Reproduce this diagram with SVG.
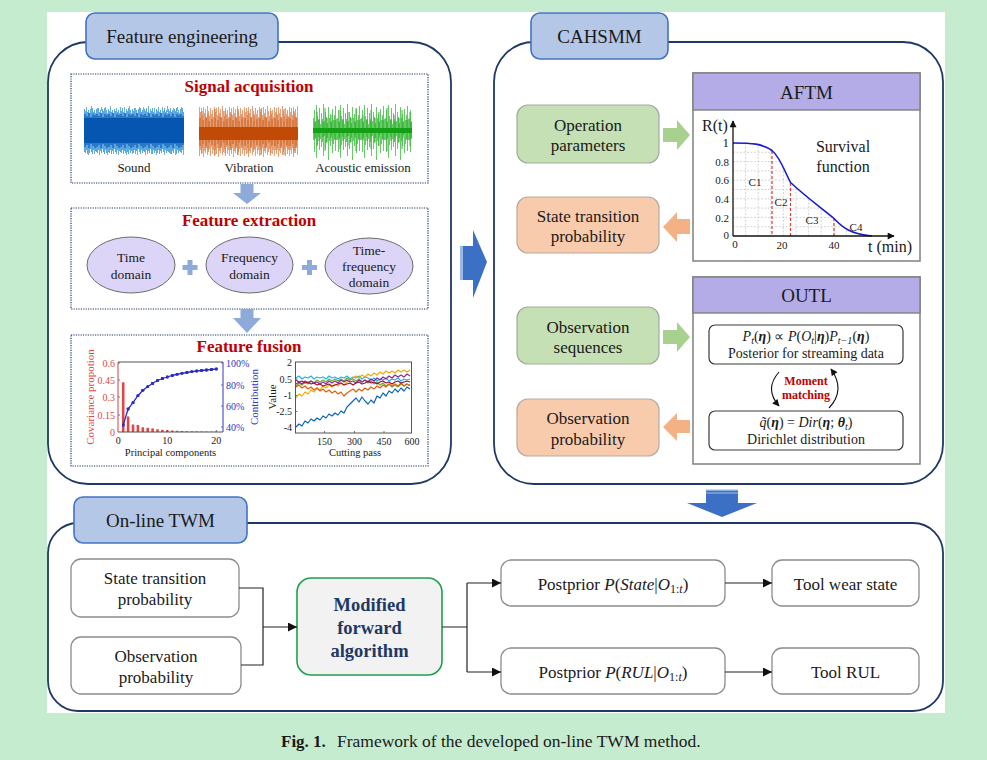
<svg xmlns="http://www.w3.org/2000/svg" width="987" height="760" viewBox="0 0 987 760">
<style>
text{font-family:"Liberation Serif","Times New Roman",serif;fill:#1a1a1a}
.panel{fill:none;stroke:#1f3864;stroke-width:1.8}
.tab{fill:#b4c7e7;stroke:#4472c4;stroke-width:1.6}
.h{font-size:19px;text-anchor:middle}
.dot{fill:none;stroke:#1f3864;stroke-width:1.2;stroke-dasharray:1.2 1.2}
.sec{font-size:17px;font-weight:bold;fill:#c00000;text-anchor:middle}
.lbl{font-size:13px;text-anchor:middle}
.ell{fill:#dcd5f7;stroke:#6b6b6b;stroke-width:1}
.lb{fill:#8eaadb}
.n17{font-size:17px;text-anchor:middle}
.grn{fill:#c5e0b4;stroke:#a3ab9f;stroke-width:1.2}
.org{fill:#f8cbad;stroke:#b8aaa2;stroke-width:1.2}
.gar{fill:#a9d18e}
.oar{fill:#f4b183}
.hdr{fill:#b4ace6;stroke:#808080;stroke-width:1.4}
.obox{fill:#fff;stroke:#808080;stroke-width:1.5}
.ibox{fill:#fff;stroke:#3a3a3a;stroke-width:1.2}
.wb{fill:#fff;stroke:#8c8c8c;stroke-width:1.3}
.con{fill:none;stroke:#222;stroke-width:1.2}
.tk{font-size:10px}
.tk11{font-size:11px}
.grid{stroke:#c4c4c4;stroke-width:.7;stroke-dasharray:2 1.5}
.rd{stroke:#e03a3a;stroke-width:1.2;stroke-dasharray:3 2}
.big{fill:#3b70c5}
.m14{font-size:14px;text-anchor:middle}
.it{font-style:italic}
.bi{font-style:italic;font-weight:bold}
.ln{fill:none;stroke-width:1.2;stroke-linejoin:round}
</style>
<defs>
<marker id="ah" viewBox="0 0 10 10" refX="10" refY="5" markerWidth="11" markerHeight="9" markerUnits="userSpaceOnUse" orient="auto"><path d="M0,0L10,5L0,10z" fill="#111"/></marker>
<marker id="ahs" viewBox="0 0 10 10" refX="9" refY="5" markerWidth="8" markerHeight="7" markerUnits="userSpaceOnUse" orient="auto"><path d="M0,0L10,5L0,10z" fill="#111"/></marker>
<marker id="dotm" viewBox="0 0 4 4" refX="2" refY="2" markerWidth="3.4" markerHeight="3.4" markerUnits="userSpaceOnUse"><circle cx="2" cy="2" r="2" fill="#2b2bc8"/></marker>
<clipPath id="under"><path d="M733,143C752,143 762,143.5 772,150.5C780,157 784,170 790.5,182.5C805,196 820,207 834,218.5C842,227 850,234 872,236L733,236Z"/></clipPath>
<pattern id="pS" patternUnits="userSpaceOnUse" x="84" y="0" width="12" height="760">
<path d="M0.5,109V152M1.5,111V153M2.5,108V150M3.5,112V154M4.5,110V151M5.5,113V153M6.5,109V149M7.5,111V152M8.5,108V154M9.5,112V150M10.5,110V153M11.5,113V151" stroke="#5aa6de" stroke-width="1"/>
<path d="M1,114V147M3,116V145M5,113V148M7,117V144M9,114V146M11,115V148" stroke="#0a5ab8" stroke-width="1.2"/>
</pattern>
<pattern id="pS2" patternUnits="userSpaceOnUse" x="84" y="0" width="19" height="760">
<path d="M2.5,107V113M7.5,106V112M13.5,108V114M17.5,107V111M4.5,149V155M10.5,150V154M15.5,148V155" stroke="#6cb0e4" stroke-width="1"/>
</pattern>
<pattern id="pV" patternUnits="userSpaceOnUse" x="199" y="0" width="15" height="760">
<path d="M0.5,107V156M1.5,112V150M2.5,108V154M3.5,115V148M4.5,107V157M5.5,113V151M6.5,109V153M7.5,118V146M8.5,106V155M9.5,111V152M10.5,116V149M11.5,108V156M12.5,114V147M13.5,110V154M14.5,117V150" stroke="#e6a079" stroke-width="1"/>
<path d="M1,118V146M4,120V144M7,117V148M10,121V143M13,119V145" stroke="#d0631e" stroke-width="1.2"/>
</pattern>
<pattern id="pV2" patternUnits="userSpaceOnUse" x="199" y="0" width="23" height="760">
<path d="M3,111V153M9,114V150M16,109V155M20,116V148" stroke="#d97a3e" stroke-width="1.1"/>
</pattern>
<pattern id="pA" patternUnits="userSpaceOnUse" x="313" y="0" width="24" height="760">
<path d="M0.5,118V140M1.5,110V152M2.5,122V138M3.5,105V158M4.5,116V145M5.5,120V137M6.5,108V150M7.5,124V139M8.5,113V147M9.5,119V142M10.5,104V156M11.5,121V136M12.5,112V149M13.5,117V143M14.5,123V138M15.5,107V160M16.5,118V141M17.5,114V146M18.5,122V135M19.5,109V153M20.5,120V144M21.5,115V139M22.5,106V151M23.5,119V140" stroke="#66ca66" stroke-width="1"/>
<path d="M2,121V139M6,119V141M10,122V137M14,118V142M18,121V138M22,120V140" stroke="#25a825" stroke-width="1"/>
</pattern>
<pattern id="pA2" patternUnits="userSpaceOnUse" x="313" y="0" width="31" height="760">
<path d="M4,112V146M12,108V151M19,115V141M27,110V149" stroke="#3cb63c" stroke-width="1"/>
</pattern>
</defs>

<rect x="0" y="0" width="987" height="760" fill="#c6ecd0"/>
<rect x="47" y="12" width="898" height="701" fill="#ffffff"/>

<!-- Feature engineering panel -->
<g id="feature-engineering">
<rect class="panel" x="48" y="42" width="403" height="442" rx="40"/>
<rect class="tab" x="86" y="13" width="192" height="46" rx="9"/>
<text class="h" x="182" y="43">Feature engineering</text>
</g>

<g id="signal-acquisition">
<rect class="dot" x="71" y="74" width="357" height="109"/>
<text class="sec" x="249" y="92">Signal acquisition</text>
<rect x="84" y="104" width="100" height="52" fill="url(#pS)"/>
<rect x="84" y="104" width="100" height="52" fill="url(#pS2)"/>
<rect x="84" y="118" width="100" height="25" fill="#0556b0"/>
<rect x="199" y="104" width="99" height="54" fill="url(#pV)"/>
<rect x="199" y="104" width="99" height="54" fill="url(#pV2)"/>
<rect x="199" y="127" width="99" height="13" fill="#c04a06"/>
<rect x="313" y="103" width="99" height="58" fill="url(#pA)"/>
<rect x="313" y="103" width="99" height="58" fill="url(#pA2)"/>
<rect x="313" y="128" width="99" height="5" fill="#14a014"/>
<text class="lbl" x="134" y="172">Sound</text>
<text class="lbl" x="249" y="172">Vibration</text>
<text class="lbl" x="363" y="172">Acoustic emission</text>
</g>

<path class="lb" d="M240.5,184H253.5V193H261L247,204L233,193H240.5Z"/>

<g id="feature-extraction">
<rect class="dot" x="71" y="208" width="357" height="101"/>
<text class="sec" x="249" y="226">Feature extraction</text>
<g id="time-domain">
<ellipse class="ell" cx="131" cy="265" rx="44" ry="28"/>
<text class="lbl" x="131" y="262" style="font-size:13.5px">Time</text>
<text class="lbl" x="131" y="279" style="font-size:13.5px">domain</text>
</g>
<g id="frequency-domain">
<ellipse class="ell" cx="249.5" cy="265" rx="43.5" ry="28"/>
<text class="lbl" x="249.5" y="262" style="font-size:13.5px">Frequency</text>
<text class="lbl" x="249.5" y="279" style="font-size:13.5px">domain</text>
</g>
<g id="time-frequency-domain">
<ellipse class="ell" cx="369" cy="266" rx="44" ry="28"/>
<text class="lbl" x="369" y="255" style="font-size:13.5px">Time-</text>
<text class="lbl" x="369" y="271" style="font-size:13.5px">frequency</text>
<text class="lbl" x="369" y="287" style="font-size:13.5px">domain</text>
</g>
<path class="lb" d="M182.5,265h15v5h-15zM187.5,260h5v15h-5z"/>
<path class="lb" d="M302,265h15v5h-15zM307,260h5v15h-5z"/>
</g>

<path class="lb" d="M240.5,309H253.5V318H261L247,333L233,318H240.5Z"/>

<g id="feature-fusion">
<rect class="dot" x="71" y="335" width="357" height="131"/>
<text class="sec" x="249" y="352">Feature fusion</text>
<!-- left chart -->
<g fill="#e04848">
<rect x="121.9" y="382.3" width="2.6" height="49.7"/>
<rect x="126.8" y="416.5" width="2.6" height="15.5"/>
<rect x="131.7" y="424.5" width="2.6" height="7.5"/>
<rect x="136.6" y="425" width="2.6" height="7"/>
<rect x="141.5" y="427.3" width="2.6" height="4.7"/>
<rect x="146.4" y="427.8" width="2.6" height="4.2"/>
<rect x="151.3" y="428.4" width="2.6" height="3.6"/>
<rect x="156.2" y="429.3" width="2.6" height="2.7"/>
<rect x="161.1" y="429.8" width="2.6" height="2.2"/>
<rect x="166" y="430.2" width="2.6" height="1.8"/>
<rect x="170.9" y="430.5" width="2.6" height="1.5"/>
<rect x="175.8" y="430.8" width="2.6" height="1.2"/>
<rect x="180.7" y="431" width="2.6" height="1"/>
<rect x="185.6" y="431.2" width="2.6" height=".8"/>
<rect x="190.5" y="431.3" width="2.6" height=".7"/>
<rect x="195.4" y="431.4" width="2.6" height=".6"/>
<rect x="200.3" y="431.5" width="2.6" height=".5"/>
<rect x="205.2" y="431.6" width="2.6" height=".4"/>
<rect x="210.1" y="431.7" width="2.6" height=".3"/>
<rect x="215" y="431.7" width="2.6" height=".3"/>
</g>
<path d="M118,362H223M118,432H223" stroke="#555" stroke-width="1" fill="none"/>
<path d="M118,362V432" stroke="#d04040" stroke-width="1"/>
<path d="M223,362V432" stroke="#3434c4" stroke-width="1"/>
<path d="M118,363h2M118,380h2M118,397h2M118,415h2M223,363h-2M223,385h-2M223,406h-2M223,427h-2M167.3,432v-2M216.3,432v-2" stroke="#555" stroke-width=".8"/>
<polyline fill="none" stroke="#2b2bc8" stroke-width="1.3" marker-start="url(#dotm)" marker-mid="url(#dotm)" marker-end="url(#dotm)" points="123.2,425 128.1,409 133,402.7 137.9,395.7 142.8,390.3 147.7,386.7 152.6,383.3 157.5,380.5 162.4,378.5 167.3,377 172.2,375.5 177.1,374.3 182,373.3 186.9,372.5 191.8,371.7 196.7,371 201.6,370.5 206.5,370 211.4,369.5 216.3,369"/>
<g class="tk" text-anchor="end">
<text x="115" y="367" style="fill:#e04848">0.6</text>
<text x="115" y="384" style="fill:#e04848">0.45</text>
<text x="115" y="401" style="fill:#e04848">0.3</text>
<text x="115" y="419" style="fill:#e04848">0.15</text>
<text x="115" y="436" style="fill:#e04848">0</text>
</g>
<g class="tk">
<text x="226" y="367" style="fill:#3434c4">100%</text>
<text x="226" y="389" style="fill:#3434c4">80%</text>
<text x="226" y="410" style="fill:#3434c4">60%</text>
<text x="226" y="431" style="fill:#3434c4">40%</text>
</g>
<g class="tk" text-anchor="middle">
<text x="118.3" y="444">0</text>
<text x="167.3" y="444">10</text>
<text x="216.3" y="444">20</text>
<text x="170.5" y="456" style="font-size:10.5px">Principal components</text>
</g>
<text transform="translate(94,397) rotate(-90)" text-anchor="middle" style="font-size:11px;fill:#e04848">Covariance propotion</text>
<text transform="translate(258,397) rotate(-90)" text-anchor="middle" style="font-size:11px;fill:#3434c4">Contribution</text>
<!-- right chart -->
<polyline class="ln" stroke="#1fb4ee" points="296,378 299,376 302,379 305,377 308,378 311,376 314,379 317,377 320,378 323,377 326,379 329,376 332,378 335,377 338,379 341,377 344,378 347,376 350,379 353,377 356,378 359,376 362,379 365,377 368,378 371,380 374,378 377,381 380,379 383,380 386,378 389,381 392,379 395,380 398,378 401,381 404,379 407,380 410,379"/>
<polyline class="ln" stroke="#f5a800" points="296,398 299,394 302,396 305,392 308,394 311,390 314,392 317,388 320,390 323,386 326,388 329,385 332,387 335,384 338,386 341,383 344,385 347,382 350,380 353,378 356,376 359,378 362,375 365,377 368,374 371,376 374,373 377,375 380,372 383,374 386,371 389,373 392,371 395,373 398,370 401,372 404,370 407,372 410,370"/>
<polyline class="ln" stroke="#6ab02e" points="296,386 299,383 302,385 305,382 308,384 311,381 314,383 317,380 320,382 323,380 326,382 329,379 332,381 335,379 338,381 341,379 344,381 347,378 350,380 353,379 356,381 359,379 362,382 365,380 368,383 371,381 374,384 377,382 380,385 383,383 386,386 389,384 392,387 395,385 398,387 401,384 404,386 407,384 410,385"/>
<polyline class="ln" stroke="#8a2c9a" points="296,384 299,382 302,384 305,381 308,383 311,381 314,383 317,382 320,384 323,382 326,384 329,381 332,383 335,381 338,383 341,380 344,382 347,380 350,382 353,381 356,383 359,380 362,382 365,380 368,382 371,379 374,381 377,378 380,380 383,377 386,379 389,376 392,378 395,375 398,377 401,375 404,377 407,374 410,376"/>
<polyline class="ln" stroke="#e0600f" points="296,387 299,385 302,388 305,386 308,389 311,387 314,390 317,388 320,391 323,389 326,392 329,390 332,393 335,391 338,394 341,392 344,396 347,393 350,391 353,389 356,392 359,389 362,391 365,388 368,390 371,387 374,389 377,386 380,388 383,385 386,387 389,384 392,386 395,384 398,386 401,383 404,386 407,384 410,386"/>
<polyline class="ln" stroke="#a2103e" points="296,380 299,382 302,381 305,383 308,382 311,384 314,383 317,385 320,384 323,386 326,385 329,384 332,386 335,385 338,384 341,383 344,385 347,384 350,383 353,385 356,383 359,382 362,384 365,383 368,381 371,383 374,382 377,384 380,382 383,381 386,383 389,382 392,384 395,382 398,381 401,383 404,382 407,381 410,382"/>
<polyline class="ln" stroke="#0a62c2" points="296,427 299,424 302,426 305,421 308,423 311,419 314,421 317,418 320,420 323,416 326,418 329,414 332,416 335,413 338,415 341,411 344,413 347,407 350,404 353,401 356,398 359,402 362,397 365,401 368,404 371,400 374,403 377,396 380,398 383,393 386,396 389,391 392,393 395,389 398,392 401,388 404,391 407,387 410,389"/>
<rect x="295.5" y="362" width="116" height="71" fill="none" stroke="#555" stroke-width="1"/>
<path d="M324.5,433v-2M354.5,433v-2M384,433v-2M295.5,379h2M295.5,395.5h2M295.5,411.5h2" stroke="#555" stroke-width=".8"/>
<g class="tk" text-anchor="end">
<text x="292" y="366">2</text>
<text x="292" y="383">0.5</text>
<text x="292" y="399">-1</text>
<text x="292" y="415">-2.5</text>
<text x="292" y="430.5">-4</text>
</g>
<g class="tk" text-anchor="middle">
<text x="324.5" y="445">150</text>
<text x="354.5" y="445">300</text>
<text x="384" y="445">450</text>
<text x="412" y="445">600</text>
<text x="355" y="456" style="font-size:10.5px">Cutting pass</text>
</g>
<text transform="translate(276,397) rotate(-90)" text-anchor="middle" style="font-size:11px">Value</text>
</g>

<!-- big right arrow between panels -->
<path class="big" d="M460,246H473V230L487,262L473,298V280H460Z"/>
<rect x="460" y="246" width="3" height="34" fill="#9bb7e6"/>

<!-- CAHSMM panel -->
<g id="cahsmm">
<rect class="panel" x="494" y="42" width="449" height="442" rx="40"/>
<rect class="tab" x="531" y="13" width="137" height="46" rx="9"/>
<text class="h" x="599.5" y="43">CAHSMM</text>
</g>

<g id="operation-parameters">
<rect class="grn" x="517" y="105" width="142" height="58" rx="11"/>
<text class="n17" x="588" y="131">Operation</text>
<text class="n17" x="588" y="151">parameters</text>
</g>
<g id="state-transition-probability">
<rect class="org" x="517" y="197" width="142" height="56" rx="11"/>
<text class="n17" x="588" y="222">State transition</text>
<text class="n17" x="588" y="242">probability</text>
</g>
<g id="observation-sequences">
<rect class="grn" x="517" y="307" width="142" height="57" rx="11"/>
<text class="n17" x="588" y="333">Observation</text>
<text class="n17" x="588" y="353">sequences</text>
</g>
<g id="observation-probability">
<rect class="org" x="517" y="399" width="142" height="57" rx="11"/>
<text class="n17" x="588" y="424">Observation</text>
<text class="n17" x="588" y="445">probability</text>
</g>

<path class="gar" d="M663,128H677V120L690,135L677,150V142H663Z"/>
<path class="oar" d="M690,219H677V212L663,227L677,242V234H690Z"/>
<path class="gar" d="M663,330H677V322L690,337L677,352V344H663Z"/>
<path class="oar" d="M690,420H677V413L663,427L677,441V433H690Z"/>

<g id="aftm">
<rect class="obox" x="693" y="73" width="227" height="188"/>
<rect class="hdr" x="693" y="73" width="227" height="37"/>
<text class="h" x="806.5" y="99">AFTM</text>
<g class="grid" clip-path="url(#under)">
<path d="M745.6,143V236M758.2,143V236M770.8,143V236M783.4,143V236M796,143V236M808.6,143V236M821.2,143V236M833.8,143V236M846.4,143V236M859,143V236M871.6,143V236"/>
<path d="M733,226.7H872M733,217.4H872M733,208.1H872M733,198.8H872M733,189.5H872M733,180.2H872M733,170.9H872M733,161.6H872M733,152.3H872M733,143.5H872"/>
</g>
<path class="rd" d="M772,151V236M790.5,183V236M834,218V236"/>
<path d="M733,143C752,143 762,143.5 772,150.5C780,157 784,170 790.5,182.5C805,196 820,207 834,218.5C842,227 850,234 872,236" fill="none" stroke="#1a1ad0" stroke-width="1.6"/>
<path d="M733,236V121" stroke="#111" stroke-width="1.3" marker-end="url(#ahs)"/>
<path d="M733,236H894" stroke="#111" stroke-width="1.3" marker-end="url(#ahs)"/>
<g class="tk11" text-anchor="end">
<text x="729" y="147" style="font-size:13px">1</text>
<text x="729" y="165.5">0.8</text>
<text x="729" y="184">0.6</text>
<text x="729" y="203">0.4</text>
<text x="729" y="221.5">0.2</text>
<text x="729" y="239">0</text>
</g>
<g class="tk11" text-anchor="middle">
<text x="735" y="248">0</text>
<text x="782" y="249">20</text>
<text x="834" y="249">40</text>
<text x="755" y="186">C1</text>
<text x="781" y="206">C2</text>
<text x="812" y="224">C3</text>
<text x="856" y="231">C4</text>
</g>
<text x="715" y="131" style="font-size:16px" text-anchor="middle">R(t)</text>
<text x="890" y="252" style="font-size:16px" text-anchor="middle">t (min)</text>
<text x="843" y="152" style="font-size:16px" text-anchor="middle">Survival</text>
<text x="843" y="172" style="font-size:16px" text-anchor="middle">function</text>
</g>

<g id="outl">
<rect class="obox" x="693" y="277" width="227" height="187"/>
<rect class="hdr" x="693" y="277" width="227" height="36"/>
<text class="h" x="806.5" y="302">OUTL</text>
<g id="posterior">
<rect class="ibox" x="709" y="325" width="194" height="39" rx="6"/>
<text class="m14" x="806" y="341"><tspan class="it">P</tspan><tspan class="it" dy="3" font-size="10">t</tspan><tspan dy="-3">(</tspan><tspan class="bi">η</tspan>) ∝ <tspan class="it">P</tspan>(<tspan class="it">O</tspan><tspan class="it" dy="3" font-size="10">t</tspan><tspan dy="-3">|</tspan><tspan class="bi">η</tspan>)<tspan class="it">P</tspan><tspan class="it" dy="3" font-size="10">t−1</tspan><tspan dy="-3">(</tspan><tspan class="bi">η</tspan>)</text>
<text class="m14" x="806" y="358">Posterior for streaming data</text>
</g>
<g id="dirichlet">
<rect class="ibox" x="709" y="411" width="194" height="39" rx="6"/>
<text class="m14" x="806" y="427"><tspan class="it">q̃</tspan>(<tspan class="bi">η</tspan>) = <tspan class="it">Dir</tspan>(<tspan class="bi">η</tspan>; <tspan class="bi">θ</tspan><tspan class="it" dy="3" font-size="10">t</tspan><tspan dy="-3">)</tspan></text>
<text class="m14" x="806" y="444">Dirichlet distribution</text>
</g>
<text x="806" y="385" text-anchor="middle" style="font-size:12px;font-weight:bold;fill:#c00000">Moment</text>
<text x="806" y="399" text-anchor="middle" style="font-size:12px;font-weight:bold;fill:#c00000">matching</text>
</g>

<!-- CAHSMM down arrow -->
<path class="big" d="M706,489H738V503H757L722,517L687,503H706Z"/>
<rect x="706" y="489" width="32" height="1.6" fill="#c8d8f2"/>
<rect x="706" y="492.5" width="32" height="1" fill="#a8c0ea"/>

<!-- On-line TWM panel -->
<g id="online-twm">
<rect class="panel" x="48" y="523" width="895" height="188" rx="30"/>
<rect class="tab" x="74" y="497" width="173" height="46" rx="9"/>
<text class="h" x="160.5" y="527">On-line TWM</text>
</g>

<g id="twm-state-transition">
<rect class="wb" x="71" y="559" width="168" height="58" rx="10"/>
<text class="n17" x="155" y="584">State transition</text>
<text class="n17" x="155" y="605">probability</text>
</g>
<g id="twm-observation">
<rect class="wb" x="71" y="637" width="170" height="57" rx="10"/>
<text class="n17" x="156" y="662">Observation</text>
<text class="n17" x="156" y="683">probability</text>
</g>
<g id="modified-forward">
<rect x="297" y="578" width="145" height="97" rx="14" fill="#f2f2f2" stroke="#1fa04c" stroke-width="1.6"/>
<text x="369.5" y="611" text-anchor="middle" style="font-size:18.5px;font-weight:bold;fill:#1f3864">Modified</text>
<text x="369.5" y="634" text-anchor="middle" style="font-size:18.5px;font-weight:bold;fill:#1f3864">forward</text>
<text x="369.5" y="657" text-anchor="middle" style="font-size:18.5px;font-weight:bold;fill:#1f3864">algorithm</text>
</g>
<g id="postprior-state">
<rect class="wb" x="501" y="560" width="224" height="46" rx="10"/>
<text class="n17" x="613" y="590">Postprior <tspan class="it">P</tspan>(<tspan class="it">State</tspan>|<tspan class="it">O</tspan><tspan dy="3" font-size="12">1:<tspan class="it">t</tspan></tspan><tspan dy="-3">)</tspan></text>
</g>
<g id="postprior-rul">
<rect class="wb" x="501" y="648" width="224" height="46" rx="10"/>
<text class="n17" x="613" y="678">Postprior <tspan class="it">P</tspan>(<tspan class="it">RUL</tspan>|<tspan class="it">O</tspan><tspan dy="3" font-size="12">1:<tspan class="it">t</tspan></tspan><tspan dy="-3">)</tspan></text>
</g>
<g id="tool-wear-state">
<rect class="wb" x="772" y="560" width="147" height="46" rx="10"/>
<text class="n17" x="845.5" y="590">Tool wear state</text>
</g>
<g id="tool-rul">
<rect class="wb" x="772" y="648" width="147" height="46" rx="10"/>
<text class="n17" x="845.5" y="678">Tool RUL</text>
</g>

<g id="connectors">
<path class="con" d="M239,588H263V665H241"/>
<path class="con" d="M263,627H297" marker-end="url(#ah)"/>
<path class="con" d="M442,627H467M467,583V672"/>
<path class="con" d="M467,583H501" marker-end="url(#ah)"/>
<path class="con" d="M467,672H501" marker-end="url(#ah)"/>
<path class="con" d="M725,583H772" marker-end="url(#ah)"/>
<path class="con" d="M725,672H772" marker-end="url(#ah)"/>
<path d="M779,372Q764,389 779,406" fill="none" stroke="#111" stroke-width="1.1" marker-end="url(#ahs)"/>
<path d="M829,408Q846,390 831,369" fill="none" stroke="#111" stroke-width="1.1" marker-end="url(#ahs)"/>
</g>

<text x="281" y="747" style="font-size:17px;font-weight:bold">Fig. 1.</text>
<text x="337" y="747" style="font-size:17.5px">Framework of the developed on-line TWM method.</text>
</svg>
